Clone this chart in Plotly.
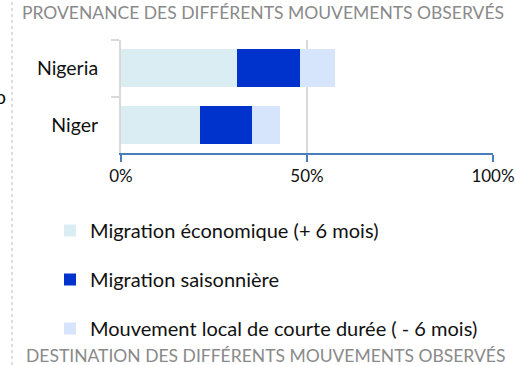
import plotly.graph_objects as go

# Share of observed movements by country of origin (%)
countries = ["Niger", "Nigeria"]
migration_economique = [21.2, 31.1]
migration_saisonniere = [14.1, 17.1]
mouvement_local = [7.4, 9.4]

series_names = [
    "Migration économique (+ 6 mois)",
    "Migration saisonnière",
    "Mouvement local de courte durée ( - 6 mois)",
]
series_values = [migration_economique, migration_saisonniere, mouvement_local]
series_colors = ["#daedf3", "#0033cc", "#d6e4fc"]

x_ticks = [0, 50, 100]
x_tick_labels = ["0%", "50%", "100%"]

W, H = 516, 365
fig = go.Figure()
for i, (name, vals, col) in enumerate(zip(series_names, series_values, series_colors)):
    fig.add_trace(go.Bar(
        y=countries, x=vals, name=name, orientation="h",
        marker=dict(color=col, line=dict(width=0)),
        legendgroup=f"g{i}",
    ))

title_font = dict(family="Lato, 'Open Sans', sans-serif", size=17.5, color="#8a8a8a")
label_font = dict(family="Lato, sans-serif", size=19.5, color="#111111")
legend_font = dict(family="Lato, sans-serif", size=20, color="#111111")
tick_font = dict(family="Lato, sans-serif", size=17, color="#111111")

fig.update_layout(
    width=W, height=H,
    margin=dict(l=0, r=0, t=0, b=0, autoexpand=False),
    paper_bgcolor="white", plot_bgcolor="white",
    barmode="stack", bargap=0.33,
    showlegend=True,
    legend=dict(
        x=50 / W, y=1 - 211 / H, xanchor="left", yanchor="top",
        traceorder="grouped", tracegroupgap=20,
        font=legend_font, itemwidth=30, bgcolor="rgba(0,0,0,0)",
    ),
    xaxis=dict(
        domain=[121 / W, 493 / W], range=[0, 100], automargin=False,
        tickvals=x_ticks, ticktext=x_tick_labels,
        showgrid=True, gridcolor="#d9d9d9", gridwidth=2,
        showline=True, linecolor="#4a7ebb", linewidth=2,
        ticks="outside", ticklen=7, tickcolor="#4a7ebb", tickwidth=2,
        tickfont=tick_font, zeroline=False, fixedrange=True,
    ),
    yaxis=dict(
        domain=[1 - 153 / H, 1 - 40 / H], automargin=False,
        categoryorder="array", categoryarray=countries,
        showline=True, linecolor="#d9d9d9", linewidth=2,
        ticks="outside", tickson="boundaries", ticklen=8,
        tickcolor="#d9d9d9", tickwidth=2, ticklabelstandoff=17,
        tickfont=label_font, showgrid=False,
    ),
    font=label_font,
)

# Dotted separator on the left edge
fig.add_shape(type="line", xref="paper", yref="paper",
              x0=12 / W, x1=12 / W, y0=0, y1=1,
              line=dict(color="#bdbdbd", width=1, dash="dot"))

fig.add_annotation(text="PROVENANCE DES DIFFÉRENTS MOUVEMENTS OBSERVÉS",
                   xref="paper", yref="paper", x=263 / W, y=1 - 13 / H,
                   xanchor="center", yanchor="middle", showarrow=False,
                   font=title_font)
fig.add_annotation(text="DESTINATION DES DIFFÉRENTS MOUVEMENTS OBSERVÉS",
                   xref="paper", yref="paper", x=265 / W, y=1 - 355 / H,
                   xanchor="center", yanchor="middle", showarrow=False,
                   font=title_font)
# Edge of the neighbouring panel's text
fig.add_annotation(text="o", xref="paper", yref="paper", x=0, y=1 - 96 / H,
                   xanchor="center", yanchor="middle", showarrow=False,
                   font=label_font)

fig.write_html("out.html")
